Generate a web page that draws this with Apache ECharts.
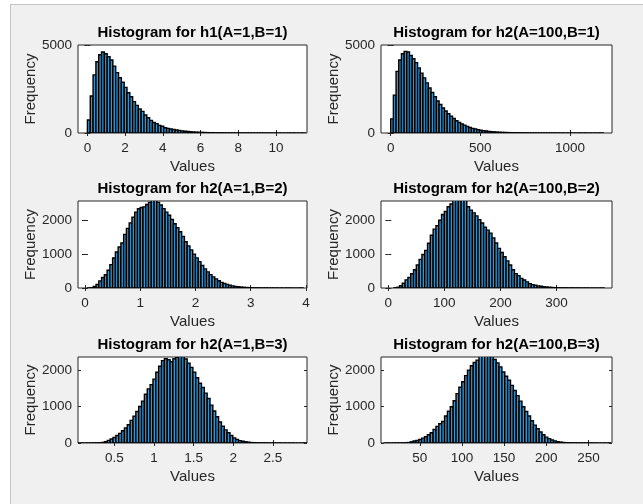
<!DOCTYPE html>
<html>
<head>
<meta charset="utf-8">
<script src="https://cdn.jsdelivr.net/npm/echarts@6/dist/echarts.min.js"></script>
<style>
html,body{margin:0;padding:0;background:#fff;overflow:hidden;width:643px;height:504px;}
#frame{position:absolute;left:10px;top:4px;width:633px;height:500px;background:#f0f0f0;border-left:1px solid #c4c4c4;border-top:1px solid #c4c4c4;box-sizing:border-box;}
#chart{position:absolute;left:0;top:0;width:643px;height:504px;}
</style>
</head>
<body>
<div id="frame"></div>
<div id="chart"></div>
<script>
// ---- data: histogram bin starts, bin widths, counts ----
const titles = ['Histogram for h1(A=1,B=1)','Histogram for h2(A=100,B=1)','Histogram for h2(A=1,B=2)','Histogram for h2(A=100,B=2)','Histogram for h2(A=1,B=3)','Histogram for h2(A=100,B=3)'];

const h1Start = 0, h1Width = 0.15;
const h1Counts = [740,2100,3300,4050,4450,4600,4500,4330,4150,3800,3430,3140,2880,2590,2290,2060,1780,1570,1360,1230,1020,870,720,600,530,435,380,300,265,227,200,170,145,120,100,85,70,58,48,40,33,27,22,18,15,12,10,8,7,6,5,4,3,3,2,2,2,1,1,1,1,1,1,0,1,0,0,1,0,0,0,0,1,0,0,0,1];

const h2aStart = 0, h2aWidth = 15;
const h2aCounts = [800,2150,3500,4150,4500,4640,4600,4400,4220,4000,3700,3400,3130,2850,2560,2300,2060,1820,1620,1420,1250,1090,950,820,700,600,510,440,370,315,265,225,190,160,132,110,92,76,63,52,43,35,29,24,20,16,13,11,9,7,6,5,4,3,3,2,2,1,1,1,1,1,0,1,0,0,1,0,0,0,0,1,0,0,0,0,0,0,1];

const h2bStart = 0.05, h2bWidth = 0.05;
const h2bCounts = [3,10,45,105,210,310,390,525,690,885,1065,1210,1330,1585,1760,1925,2090,2240,2340,2380,2395,2465,2530,2590,2600,2530,2450,2340,2240,2150,2025,1900,1780,1660,1520,1365,1245,1125,1000,890,780,665,565,475,395,330,270,215,165,132,105,80,62,48,36,27,20,14,10,7,5,4,3,2,2,1,1,1,0,1,0,0,1,0,0,0,0,1];

const h2cStart = 10, h2cWidth = 5;
const h2cCounts = [5,20,65,140,240,310,420,540,680,845,990,1110,1320,1560,1740,1840,2000,2170,2260,2400,2480,2600,2590,2580,2610,2590,2400,2300,2220,2130,2020,1920,1795,1710,1620,1480,1330,1170,1050,925,800,680,540,425,365,285,235,180,130,100,80,62,50,38,30,22,14,10,7,5,4,3,2,2,1,1,1,0,1,0,0,0,0,0,1];

const h2dStart = 0.05, h2dWidth = 0.036;
const h2dCounts = [1,0,0,1,1,2,3,6,15,37,72,110,150,204,264,338,414,500,620,735,865,1000,1148,1336,1486,1602,1754,1940,2105,2260,2310,2285,2230,2310,2350,2380,2370,2305,2190,2075,1945,1790,1640,1525,1370,1220,1040,880,720,575,460,360,280,205,140,100,65,48,33,22,12,8,6,4,3,2,2,1,1,1,0,1,0,0,1,0,0,0,0,1];

const h2eStart = 8, h2eWidth = 3.4;
const h2eCounts = [1,0,0,1,1,2,3,6,12,32,53,70,95,135,173,225,282,370,455,527,588,740,870,995,1160,1355,1530,1680,1850,2000,2120,2210,2275,2380,2400,2390,2410,2370,2290,2200,2090,1950,1830,1720,1580,1440,1300,1150,995,865,740,610,490,390,300,225,160,120,85,58,35,25,14,9,6,4,3,2,2,1,1,1,0,1,0,0,0,1,0];

// axis ranges and tick labels
const xRanges = [[-0.5,11.65],[-54,1234],[-0.127,4.02],[-13,399],[0.04,2.93],[4,278]];
const xTicks = [[0,2,4,6,8,10],[0,500,1000],[0,1,2,3,4],[0,100,200,300],[0.5,1,1.5,2,2.5],[50,100,150,200,250]];
const yMaxes = [5000,5000,2570,2570,2360,2360];
const yTicks = [[0,5000],[0,5000],[0,1000,2000],[0,1000,2000],[0,1000,2000],[0,1000,2000]];

const starts = [h1Start,h2aStart,h2bStart,h2cStart,h2dStart,h2eStart];
const widths = [h1Width,h2aWidth,h2bWidth,h2cWidth,h2dWidth,h2eWidth];
const counts = [h1Counts,h2aCounts,h2bCounts,h2cCounts,h2dCounts,h2eCounts];

// ---- layout ----
const boxes = [[78,45,229,88],[381,45,231,88],[78,201,229,87],[381,201,231,87],[78,357,229,86],[381,357,231,86]];
const FONT = '"Liberation Sans", Arial, Helvetica, sans-serif';
const AX = '#262626';
const plain = v => String(v);

const grid=[], xAxis=[], yAxis=[], series=[], title=[];
boxes.forEach((b,i)=>{
  grid.push({left:b[0],top:b[1],width:b[2],height:b[3],show:true,backgroundColor:'#fff',borderColor:AX,borderWidth:1});
  title.push({text:titles[i],left:b[0]+b[2]/2,top:b[1]-20,textAlign:'center',padding:0,
    textStyle:{fontFamily:FONT,fontSize:15,fontWeight:'bold',color:'#000'}});
  const tickCommon = {show:true,inside:true,length:3,lineStyle:{color:AX,width:1}};
  xAxis.push({gridIndex:i,type:'value',min:xRanges[i][0],max:xRanges[i][1],
    axisLine:{show:false},splitLine:{show:false},
    axisTick:Object.assign({customValues:xTicks[i]},tickCommon),
    axisLabel:{customValues:xTicks[i],formatter:plain,color:AX,fontFamily:FONT,fontSize:13.5,margin:8,hideOverlap:false},
    name:'Values',nameLocation:'middle',nameGap:26,nameTextStyle:{fontFamily:FONT,fontSize:15,color:AX}});
  xAxis.push({gridIndex:i,type:'value',position:'top',min:xRanges[i][0],max:xRanges[i][1],
    axisLine:{show:false},splitLine:{show:false},axisLabel:{show:false},
    axisTick:Object.assign({customValues:xTicks[i]},tickCommon)});
  yAxis.push({gridIndex:i,type:'value',min:0,max:yMaxes[i],
    axisLine:{show:false},splitLine:{show:false},
    axisTick:Object.assign({customValues:yTicks[i]},tickCommon),
    axisLabel:{customValues:yTicks[i],formatter:plain,color:AX,fontFamily:FONT,fontSize:13.5,margin:6},
    name:'Frequency',nameLocation:'middle',nameGap:38,nameTextStyle:{fontFamily:FONT,fontSize:15,color:AX}});
  yAxis.push({gridIndex:i,type:'value',position:'right',min:0,max:yMaxes[i],
    axisLine:{show:false},splitLine:{show:false},axisLabel:{show:false},
    axisTick:Object.assign({customValues:yTicks[i]},tickCommon)});
  const data = counts[i].map((c,k)=>[starts[i]+k*widths[i], starts[i]+(k+1)*widths[i], c]);
  series.push({type:'custom',xAxisIndex:2*i,yAxisIndex:2*i,clip:true,data:data,
    encode:{x:[0,1],y:2},
    renderItem:function(params,api){
      const p0=api.coord([api.value(0),api.value(2)]);
      const p1=api.coord([api.value(1),0]);
      return {type:'rect',shape:{x:p0[0],y:p0[1],width:p1[0]-p0[0],height:p1[1]-p0[1]},
        style:{fill:'#3f8fc8',stroke:'#000',lineWidth:1.4}};
    }});
});

const chart = echarts.init(document.getElementById('chart'),null,{renderer:'canvas'});
chart.setOption({animation:false,title,grid,xAxis,yAxis,series});
</script>
</body>
</html>
